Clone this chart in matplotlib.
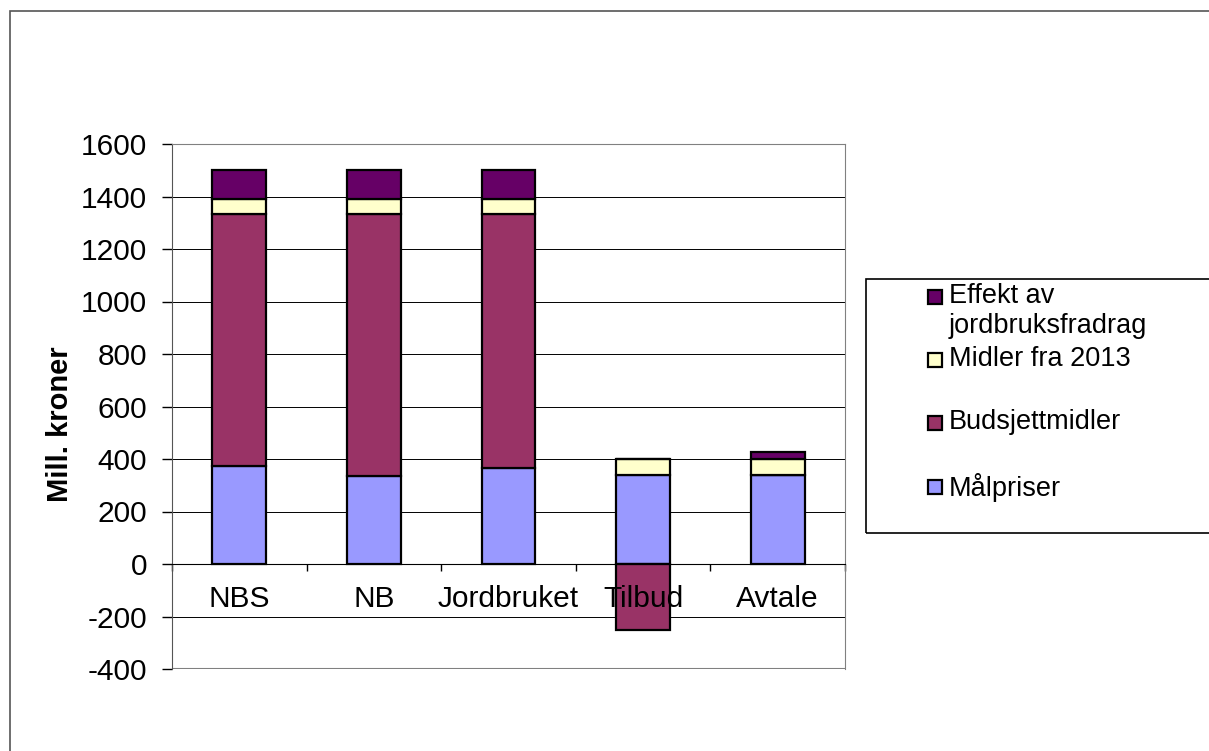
import matplotlib.pyplot as plt
import numpy as np
from matplotlib.patches import Rectangle

plt.rcParams['font.family'] = ['Liberation Sans', 'DejaVu Sans']
plt.rcParams['axes.unicode_minus'] = False

# data (mill. kroner)
categories = ['NBS', 'NB', 'Jordbruket', 'Tilbud', 'Avtale']
series_names = ['Målpriser', 'Budsjettmidler', 'Midler fra 2013', 'Effekt av\njordbruksfradrag']
malpriser = [373, 335, 364, 338, 338]
budsjett = [959, 997, 968, -250, 0]
midler_2013 = [58, 58, 58, 61, 63]
effekt = [110, 110, 110, 0, 24]
colors = ['#9999FF', '#993366', '#FFFFCC', '#660066']
yticks = list(range(-400, 1601, 200))

W, H = 1209, 751
fig = plt.figure(figsize=(W / 100, H / 100), dpi=100)
ax = fig.add_axes([172 / W, 1 - 669 / H, (845 - 172) / W, (669 - 144) / H])

x = np.arange(len(categories))
pos_bottom = np.zeros(len(categories))
neg_bottom = np.zeros(len(categories))
for vals, col in zip([malpriser, budsjett, midler_2013, effekt], colors):
    vals = np.array(vals, dtype=float)
    bottoms = np.where(vals >= 0, pos_bottom, neg_bottom)
    ax.bar(x, vals, 0.4, bottom=bottoms, color=col, edgecolor='black', linewidth=1.6, zorder=3)
    pos_bottom += np.clip(vals, 0, None)
    neg_bottom += np.clip(vals, None, 0)

ax.set_xlim(-0.5, len(categories) - 0.5)
ax.set_ylim(yticks[0], yticks[-1])
ax.set_yticks(yticks)
ax.yaxis.grid(True, color='black', linewidth=0.7, zorder=0)
ax.tick_params(axis='y', direction='out', length=7, width=1, pad=11, labelsize=21.5)

# category axis sits on the zero line
ax.spines['bottom'].set_position(('data', 0))
ax.spines['bottom'].set_color('black')
ax.spines['bottom'].set_zorder(4)
ax.set_xticks(np.arange(len(categories) + 1) - 0.5)
ax.set_xticklabels([])
ax.tick_params(axis='x', direction='out', length=5, width=1)
for sp in ['top', 'right', 'left']:
    ax.spines[sp].set_color('#808080')
ax.spines['left'].set_color('#555555')
ax.axhline(yticks[0], color='#808080', linewidth=1.5, zorder=1)

for i, c in enumerate(categories):
    ax.annotate(c, (i, 0), xytext=(0, -25), textcoords='offset points',
                ha='center', va='center', fontsize=21.5, zorder=6)

fig.text(60 / W, 1 - 424 / H, 'Mill. kroner', rotation=90, ha='center', va='center',
         fontsize=21, fontweight='bold')

# legend box (Excel style)
fig.patches.append(Rectangle((866 / W, 1 - 533 / H), (1215 - 866) / W, (533 - 279) / H,
                             transform=fig.transFigure, fill=False, edgecolor='black', linewidth=1.2))
ys = [297, 360, 423, 487]
for name, col, yy in zip(series_names[::-1], colors[::-1], ys):
    fig.patches.append(Rectangle((928 / W, 1 - (yy + 7) / H), 14 / W, 14 / H, transform=fig.transFigure,
                                 facecolor=col, edgecolor='black', linewidth=1.6))
    fig.text(949 / W, 1 - (yy - 14) / H, name, ha='left', va='top', fontsize=19.5, linespacing=1.22)

# outer chart frame
fig.patches.append(Rectangle((10 / W, -0.05), 1.1, 1 - 11 / H + 0.05, transform=fig.transFigure,
                             fill=False, edgecolor='#555555', linewidth=1.2))

fig.savefig('out.png', dpi=100)
